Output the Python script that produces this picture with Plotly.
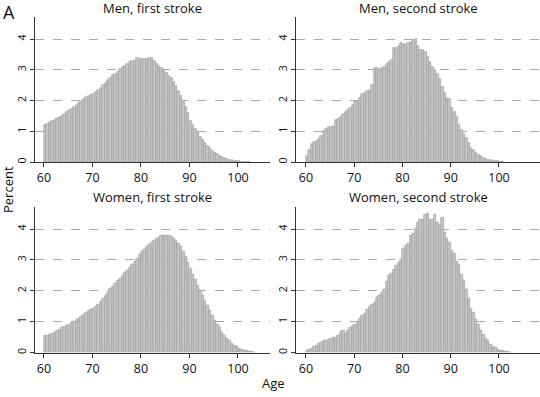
import plotly.graph_objects as go

# Half-year age bins starting at 60.0
bin_start = 60.0
bin_width = 0.5

men_first = [1.20, 1.25, 1.30, 1.33, 1.38, 1.42, 1.46, 1.50, 1.56, 1.62,
             1.70, 1.74, 1.80, 1.86, 1.92, 1.98, 2.06, 2.10, 2.14, 2.18,
             2.22, 2.28, 2.34, 2.42, 2.50, 2.58, 2.66, 2.74, 2.82, 2.86,
             2.94, 3.04, 3.10, 3.14, 3.20, 3.26, 3.28, 3.30, 3.38, 3.36,
             3.34, 3.35, 3.34, 3.38, 3.40, 3.30, 3.20, 3.14, 3.06, 2.98,
             2.90, 2.80, 2.72, 2.60, 2.48, 2.32, 2.14, 1.96, 1.80, 1.58,
             1.34, 1.20, 1.08, 0.95, 0.83, 0.72, 0.62, 0.52, 0.44, 0.36,
             0.29, 0.25, 0.20, 0.16, 0.12, 0.10, 0.07, 0.05, 0.04, 0.03,
             0.02, 0.01, 0.01, 0.005, 0.003]

men_second = [0.18, 0.40, 0.58, 0.66, 0.70, 0.76, 0.85, 1.02, 1.08, 1.14,
              1.15, 1.16, 1.36, 1.40, 1.48, 1.56, 1.62, 1.70, 1.76, 1.86,
              1.94, 2.00, 2.08, 2.20, 2.26, 2.32, 2.36, 2.50, 3.05, 3.06,
              3.04, 3.05, 3.10, 3.20, 3.24, 3.32, 3.70, 3.72, 3.76, 3.88,
              3.84, 3.80, 3.86, 3.90, 3.96, 4.00, 3.76, 3.66, 3.64, 3.58,
              3.42, 3.26, 3.10, 2.98, 2.88, 2.70, 2.45, 2.25, 2.08, 2.05,
              1.75, 1.62, 1.45, 1.22, 1.05, 0.92, 0.78, 0.62, 0.45, 0.38,
              0.30, 0.24, 0.18, 0.14, 0.11, 0.08, 0.06, 0.04, 0.03, 0.02,
              0.01, 0.005]

women_first = [0.54, 0.56, 0.58, 0.62, 0.66, 0.70, 0.76, 0.80, 0.84, 0.88,
               0.92, 0.96, 1.00, 1.06, 1.10, 1.16, 1.24, 1.30, 1.36, 1.40,
               1.44, 1.50, 1.56, 1.66, 1.74, 1.84, 1.96, 2.06, 2.14, 2.24,
               2.32, 2.40, 2.48, 2.58, 2.66, 2.76, 2.86, 2.96, 3.06, 3.16,
               3.26, 3.34, 3.42, 3.50, 3.56, 3.62, 3.68, 3.72, 3.78, 3.80,
               3.80, 3.79, 3.76, 3.70, 3.62, 3.52, 3.42, 3.28, 3.12, 2.92,
               2.72, 2.54, 2.36, 2.18, 2.00, 1.84, 1.68, 1.52, 1.36, 1.20,
               1.04, 0.92, 0.80, 0.66, 0.54, 0.46, 0.38, 0.30, 0.24, 0.19,
               0.14, 0.10, 0.07, 0.05, 0.03, 0.02, 0.01]

women_second = [0.06, 0.10, 0.14, 0.18, 0.24, 0.28, 0.32, 0.38, 0.40, 0.42,
                0.46, 0.50, 0.50, 0.56, 0.68, 0.72, 0.62, 0.70, 0.80, 0.86,
                0.92, 1.00, 1.10, 1.20, 1.26, 1.40, 1.50, 1.54, 1.62, 1.78,
                1.86, 1.94, 2.04, 2.30, 2.48, 2.56, 2.70, 2.82, 2.90, 3.00,
                3.38, 3.46, 3.54, 3.80, 3.86, 4.02, 4.20, 4.30, 4.32, 4.48,
                4.50, 4.30, 4.30, 4.48, 4.20, 4.10, 4.36, 3.90, 3.70, 3.56,
                3.30, 3.22, 2.96, 2.84, 2.54, 2.34, 2.04, 1.76, 1.44, 1.30,
                1.06, 0.92, 0.72, 0.58, 0.46, 0.38, 0.26, 0.20, 0.15, 0.11,
                0.08, 0.05, 0.03, 0.02, 0.01]

panel_titles = ["Men, first stroke", "Men, second stroke",
                "Women, first stroke", "Women, second stroke"]
series = [men_first, men_second, women_first, women_second]
x_ticks = [60, 70, 80, 90, 100]
y_ticks = [0, 1, 2, 3, 4]

W, H = 540, 397
# pixel boxes: (left, right, top, bottom)
boxes = [(35, 270, 17, 162), (296, 540, 17, 162),
         (35, 270, 206.5, 352.5), (296, 540, 206.5, 352.5)]
x_ranges = [[58.15, 106.6], [57.93, 108.5], [58.15, 106.6], [57.93, 108.5]]
y_ranges = [[0, 4.72], [0, 4.72], [0, 4.73], [0, 4.73]]

FONT = "Open Sans, Noto Sans, DejaVu Sans, sans-serif"
fig = go.Figure()
annotations = []
for i, (vals, title) in enumerate(zip(series, panel_titles)):
    n = i + 1
    xa = "x" if n == 1 else f"x{n}"
    ya = "y" if n == 1 else f"y{n}"
    centers = [bin_start + bin_width * k + bin_width / 2 for k in range(len(vals))]
    fig.add_trace(go.Bar(
        x=centers, y=vals, width=bin_width, xaxis=xa, yaxis=ya,
        marker=dict(color="#c6c6c6", line=dict(color="#9a9a9a", width=0.6)),
        showlegend=False, hoverinfo="x+y"))
    l, r, t, b = boxes[i]
    xdom = [l / W, r / W]
    ydom = [1 - b / H, 1 - t / H]
    xkey = "xaxis" if n == 1 else f"xaxis{n}"
    ykey = "yaxis" if n == 1 else f"yaxis{n}"
    fig.update_layout(**{
        xkey: dict(domain=xdom, range=x_ranges[i], anchor=ya,
                   tickvals=x_ticks, ticktext=[str(v) for v in x_ticks],
                   showgrid=False, zeroline=False, showline=True,
                   linecolor="#333", linewidth=1, ticks="outside",
                   ticklen=4, tickcolor="#333", automargin=False,
                   tickfont=dict(size=12.5, color="#111", family=FONT)),
        ykey: dict(domain=ydom, range=y_ranges[i], anchor=xa,
                   tickvals=y_ticks, ticktext=[str(v) for v in y_ticks],
                   showgrid=True, gridcolor="#aaaaaa", griddash="dash",
                   gridwidth=0.8, zeroline=False, showline=True,
                   linecolor="#333", linewidth=1, ticks="outside",
                   ticklen=4, tickcolor="#333", tickangle=-90,
                   automargin=False,
                   tickfont=dict(size=10.5, color="#111", family=FONT)),
    })
    annotations.append(dict(text=title, x=(l + r) / 2 / W, y=1 - (t - 9) / H,
                            xref="paper", yref="paper", showarrow=False,
                            xanchor="center", yanchor="middle",
                            font=dict(size=13, color="#111", family=FONT)))

annotations += [
    dict(text="Percent", x=8 / W, y=1 - 190 / H, xref="paper", yref="paper",
         showarrow=False, textangle=-90, xanchor="center", yanchor="middle",
         font=dict(size=13, color="#111", family=FONT)),
    dict(text="Age", x=273 / W, y=1 - 383 / H, xref="paper", yref="paper",
         showarrow=False, xanchor="center", yanchor="middle",
         font=dict(size=13, color="#111", family=FONT)),
    dict(text="A", x=9 / W, y=1 - 12.5 / H, xref="paper", yref="paper",
         showarrow=False, xanchor="center", yanchor="middle",
         font=dict(size=18, color="#111", family=FONT)),
]

fig.update_layout(width=W, height=H, margin=dict(l=0, r=0, t=0, b=0),
                  paper_bgcolor="white", plot_bgcolor="white",
                  bargap=0, annotations=annotations,
                  font=dict(family=FONT))
fig.write_html("out.html", config={"displayModeBar": False},
               post_script="document.body.style.margin='0';"
                           "document.body.style.overflow='hidden';")
